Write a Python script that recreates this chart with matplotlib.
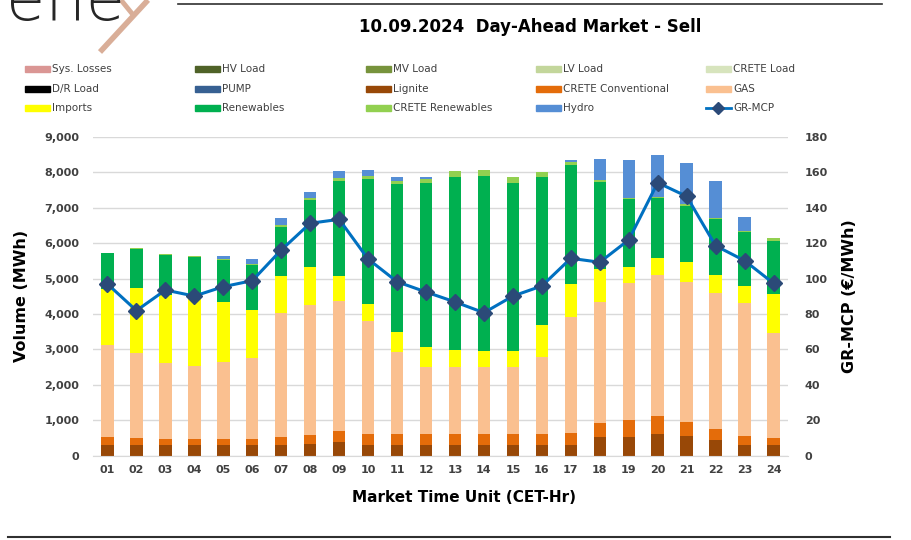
import matplotlib
matplotlib.use("Agg")
import matplotlib.pyplot as plt
from matplotlib.lines import Line2D
from matplotlib.patches import Rectangle
import numpy as np

hours = [f"{h:02d}" for h in range(1, 25)]

sys_losses = [0] * 24
hv_load = [0] * 24
mv_load = [0] * 24
lv_load = [0] * 24
crete_load = [0] * 24
dr_load = [0] * 24
pump = [0] * 24
lignite = [300, 300, 300, 300, 300, 300, 300, 320, 395, 300, 300, 300,
           300, 300, 300, 300, 300, 537, 537, 612, 556, 443, 300, 300]
crete_conv = [220, 190, 180, 180, 180, 180, 235, 265, 310, 310, 310, 310,
              310, 310, 300, 300, 330, 385, 470, 517, 395, 319, 265, 208]
gas = [2605, 2400, 2127, 2060, 2155, 2286, 3481, 3669, 3660, 3198, 2306, 1882,
       1882, 1882, 1894, 2176, 3283, 3407, 3858, 3970, 3960, 3838, 3735, 2963]
imports = [1571, 1852, 1928, 1930, 1694, 1346, 1062, 1081, 714, 480, 582, 573,
           489, 470, 461, 903, 922, 930, 469, 480, 546, 499, 498, 1092]
renewables = [1016, 1082, 1120, 1137, 1184, 1270, 1383, 1882, 2681, 3510, 4159, 4637,
              4882, 4938, 4749, 4195, 3367, 2474, 1901, 1684, 1598, 1571, 1515, 1504]
crete_ren = [20, 25, 35, 38, 32, 28, 37, 47, 67, 93, 102, 114,
             160, 161, 151, 132, 85, 57, 47, 37, 45, 40, 37, 76]
hydro = [0, 0, 0, 0, 90, 141, 199, 170, 207, 170, 104, 47,
         0, 0, 0, 0, 65, 573, 1062, 1186, 1169, 1051, 395, 0]
gr_mcp = [96.9, 81.9, 93.5, 90.1, 95.4, 98.8, 116.1, 131.2, 133.4, 111.0, 98.2, 92.4,
          86.8, 80.7, 90.1, 95.8, 111.4, 109.2, 121.8, 154.1, 146.4, 118.5, 110.1, 97.3]

series = [
    ("Sys. Losses", sys_losses, "#DA9694"),
    ("HV Load", hv_load, "#4F6228"),
    ("MV Load", mv_load, "#77933C"),
    ("LV Load", lv_load, "#C3D69B"),
    ("CRETE Load", crete_load, "#D7E4BD"),
    ("D/R Load", dr_load, "#000000"),
    ("PUMP", pump, "#376092"),
    ("Lignite", lignite, "#984807"),
    ("CRETE Conventional", crete_conv, "#E46C0A"),
    ("GAS", gas, "#FAC090"),
    ("Imports", imports, "#FFFF00"),
    ("Renewables", renewables, "#00B050"),
    ("CRETE Renewables", crete_ren, "#92D050"),
    ("Hydro", hydro, "#558ED5"),
]
line_color = "#0070C0"
marker_color = "#2B4A78"
txt = "#404040"

fig = plt.figure(figsize=(9.12, 5.4), dpi=100)
ax = fig.add_axes([93 / 912, 1 - 455.7 / 540, 695 / 912, 318.9 / 540])
ax2 = ax.twinx()

x = np.arange(24)
bottom = np.zeros(24)
for name, vals, col in series:
    v = np.array(vals, dtype=float)
    ax.bar(x, v, 0.43, bottom=bottom, color=col, edgecolor="none", zorder=2)
    bottom += v

ax2.plot(x, gr_mcp, color=line_color, lw=2.2, marker="D", ms=8.5,
         markerfacecolor=marker_color, markeredgecolor=marker_color, zorder=5)

ax.set_xlim(-0.5, 23.5)
ax.set_ylim(0, 9000)
ax2.set_ylim(0, 180)
ax.set_yticks(np.arange(0, 9001, 1000))
ax2.set_yticks(np.arange(0, 181, 20))
ax.set_yticklabels([f"{v:,}" for v in range(0, 9001, 1000)])
ax.set_xticks(x)
ax.set_xticklabels(hours)
ax.grid(axis="y", color="#D9D9D9", lw=1.0, zorder=0)
ax.set_axisbelow(True)
for a in (ax, ax2):
    for s in a.spines.values():
        s.set_visible(False)
ax.spines["bottom"].set_visible(True)
ax.spines["bottom"].set_color("#D9D9D9")
ax.tick_params(axis="both", length=0, labelsize=8, labelcolor=txt)
ax.tick_params(axis="y", pad=10)
ax.tick_params(axis="x", pad=7)
ax2.tick_params(axis="y", length=0, labelsize=8, labelcolor=txt, pad=12)
for lab in ax.get_xticklabels() + ax.get_yticklabels() + ax2.get_yticklabels():
    lab.set_fontweight("bold")

fig.text(22 / 912, 1 - 296 / 540, "Volume (MWh)", rotation=90, ha="center", va="center",
         fontsize=11.5, fontweight="bold", color="black")
fig.text(850 / 912, 1 - 296 / 540, "GR-MCP (€/MWh)", rotation=90, ha="center", va="center",
         fontsize=11.5, fontweight="bold", color="black")
fig.text(464 / 912, 1 - 497 / 540, "Market Time Unit (CET-Hr)", ha="center", va="center",
         fontsize=11, fontweight="bold", color="black")
fig.text(530 / 912, 1 - 27 / 540, "10.09.2024  Day-Ahead Market - Sell", ha="center",
         va="center", fontsize=12, fontweight="bold", color="black")

# Legend (row-major, 5 columns)
col_x = [25, 195, 366, 536, 706]
row_y = [69, 89, 108]
entries = [(n, c) for n, _, c in series] + [("GR-MCP", None)]
for i, (name, col) in enumerate(entries):
    r, c = divmod(i, 5)
    px, py = col_x[c], row_y[r]
    if col is not None:
        fig.patches.append(Rectangle((px / 912, 1 - (py + 3) / 540), 25 / 912, 6 / 540,
                                     transform=fig.transFigure, color=col))
    else:
        fig.lines.append(Line2D([px / 912, (px + 25) / 912], [1 - py / 540] * 2,
                                transform=fig.transFigure, color=line_color, lw=2))
        fig.lines.append(Line2D([(px + 12.5) / 912], [1 - py / 540], transform=fig.transFigure,
                                marker="D", ms=6, color=marker_color, lw=0))
    fig.text((px + 27) / 912, 1 - py / 540, name, ha="left", va="center",
             fontsize=7.5, color=txt)

# Rules
fig.lines.append(Line2D([178 / 912, 882 / 912], [1 - 4 / 540] * 2, transform=fig.transFigure,
                        color="#303030", lw=1.2))
fig.lines.append(Line2D([8 / 912, 890 / 912], [1 - 537 / 540] * 2, transform=fig.transFigure,
                        color="#303030", lw=1.5))

# Logo
fig.text(6 / 912, 1 - 20 / 540, "ene", ha="left", va="baseline", fontsize=46,
         color="#262626", fontweight="light")
fig.lines.append(Line2D([148 / 912, 100 / 912], [1.0, 1 - 52 / 540], transform=fig.transFigure,
                        color="#D9AE98", lw=4, solid_capstyle="butt"))
fig.lines.append(Line2D([121 / 912, 134 / 912], [1.0, 1 - 16 / 540], transform=fig.transFigure,
                        color="#D9AE98", lw=3.5, solid_capstyle="butt"))

fig.savefig("out.png", dpi=100)
